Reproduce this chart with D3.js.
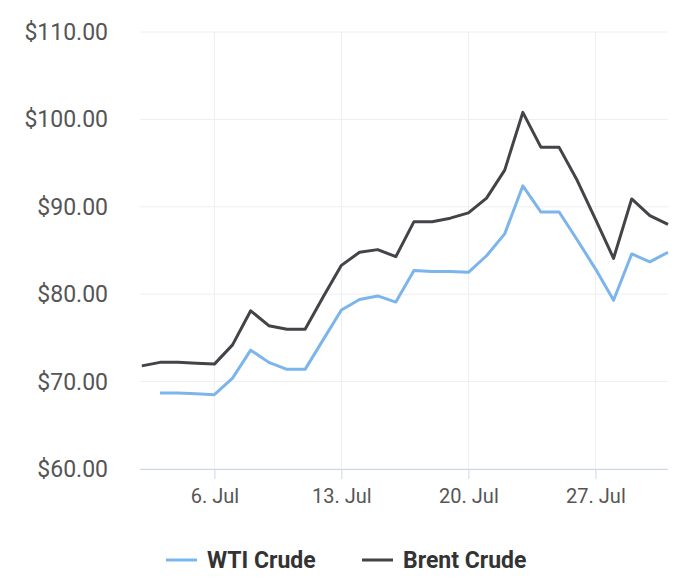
<!DOCTYPE html>
<html><head><meta charset="utf-8">
<script src="https://cdn.jsdelivr.net/npm/d3@7"></script>
<style>body{margin:0;background:#fff;font-family:Roboto,sans-serif}</style>
</head><body><div id="chart"></div>
<script>
// series data (July)
var brentDays = [2,3,4,5,6,7,8,9,10,11,12,13,14,15,16,17,18,19,20,21,22,23,24,25,26,27,28,29,30,31];
var brentVals = [71.8,72.2,72.2,72.1,72.0,74.2,78.1,76.4,76.0,76.0,79.7,83.3,84.8,85.1,84.3,88.3,88.3,88.7,89.3,91.0,94.2,100.8,96.8,96.8,93.0,88.6,84.1,90.9,89.0,88.0];
var wtiDays = [3,4,5,6,7,8,9,10,11,12,13,14,15,16,17,18,19,20,21,22,23,24,25,26,27,28,29,30,31];
var wtiVals = [68.7,68.7,68.6,68.5,70.4,73.6,72.2,71.4,71.4,74.8,78.2,79.4,79.8,79.1,82.7,82.6,82.6,82.5,84.4,86.9,92.4,89.4,89.4,86.2,82.9,79.3,84.6,83.7,84.8];
var yTicks = [60,70,80,90,100,110];
var xTicks = [6,13,20,27];

var W = 700, H = 584;
var svg = d3.select("#chart").append("svg").attr("width", W).attr("height", H);
var x = d3.scaleLinear().domain([1.9, 31]).range([140, 668]);
var y = d3.scaleLinear().domain([60, 110]).range([469, 32]);

// grid
svg.append("g").selectAll("line").data(yTicks).enter().append("line")
  .attr("x1", 140).attr("x2", 668).attr("y1", d => y(d)).attr("y2", d => y(d))
  .attr("stroke", "#eeeeee");
svg.append("g").selectAll("line").data(xTicks).enter().append("line")
  .attr("x1", d => x(d)).attr("x2", d => x(d)).attr("y1", 32).attr("y2", 469)
  .attr("stroke", "#eeeeee");

// y labels
svg.append("g").selectAll("text").data(yTicks).enter().append("text")
  .attr("x", 108).attr("y", d => y(d) + 8).attr("text-anchor", "end")
  .attr("font-size", 23).attr("fill", "#555")
  .text(d => "$" + d.toFixed(2));

// x axis
var xAxis = d3.axisBottom(x).tickValues(xTicks).tickSize(10).tickFormat(d => d + ". Jul");
var gx = svg.append("g").attr("transform", "translate(0,469)").call(xAxis);
gx.select(".domain").attr("stroke", "#ccd6eb").attr("d", "M140,0.5H668");
gx.selectAll(".tick line").attr("stroke", "#ccd6eb");
gx.selectAll("text").attr("font-size", 20).attr("fill", "#555").attr("dy", "1.05em")
  .attr("font-family", "Roboto");

var line = d3.line().x(d => x(d[0])).y(d => y(d[1]));
svg.append("path").attr("d", line(wtiDays.map((d, i) => [d, wtiVals[i]])))
  .attr("fill", "none").attr("stroke", "#7cb5ec").attr("stroke-width", 3).attr("stroke-linejoin", "round");
svg.append("path").attr("d", line(brentDays.map((d, i) => [d, brentVals[i]])))
  .attr("fill", "none").attr("stroke", "#434348").attr("stroke-width", 3).attr("stroke-linejoin", "round");

// legend
var legend = [["WTI Crude", "#7cb5ec", 166], ["Brent Crude", "#434348", 362]];
legend.forEach(function(l) {
  svg.append("line").attr("x1", l[2]).attr("x2", l[2] + 31).attr("y1", 560).attr("y2", 560)
    .attr("stroke", l[1]).attr("stroke-width", 3);
  svg.append("text").attr("x", l[2] + 41).attr("y", 568).attr("font-size", 23)
    .attr("font-weight", "bold").attr("fill", "#333").text(l[0]);
});
</script></body></html>
